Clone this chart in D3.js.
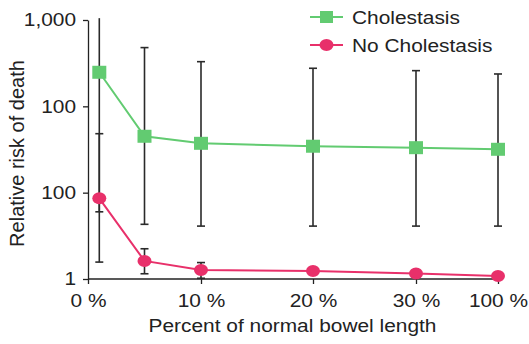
<!DOCTYPE html>
<html>
<head>
<meta charset="utf-8">
<script src="https://cdn.jsdelivr.net/npm/d3@7"></script>
<style>
  body { margin: 0; background: #fff; }
  svg text { font-family: "Liberation Sans", Arial, Helvetica, sans-serif; fill: #222; }
</style>
</head>
<body>
<div id="chart"></div>
<script>
let width = 529;
let height = 344;

// percent of normal bowel length (x positions of the points)
const percents = [1, 5, 10, 20, 30, 100];

// Cholestasis: relative risk and error bar limits
const cholestasis = [248, 45, 37.3, 34.5, 33.2, 31.8];
const cholestasisLow = [6.0, 4.3, 4.1, 4.1, 4.1, 4.1];
const cholestasisHigh = [1050, 479, 329, 276, 259, 237];

// No cholestasis: relative risk and error bar limits
const noCholestasis = [8.6, 1.62, 1.27, 1.24, 1.16, 1.08];
const noCholestasisLow = [1.57, 1.15, 1.02, 1.2, 1.12, 1.05];
const noCholestasisHigh = [48.2, 2.24, 1.55, 1.3, 1.2, 1.1];

// axis ticks as printed on the figure
const xTicks = [0, 10, 20, 30, 100];
const xTickLabels = ["0 %", "10 %", "20 %", "30 %", "100 %"];
const yTicks = [1, 10, 100, 1000];
const yTickLabels = ["1", "100", "100", "1,000"];

const green = "#62cb71";
const pink = "#e8306a";
const fontSize = "18.5px";
const stretch = 1.13; // the original figure is slightly widened

const svg = d3.select("#chart")
  .append("svg")
  .attr("width", width)
  .attr("height", height);

// piecewise x scale: the axis is not uniform between ticks
const x = d3.scaleLinear()
  .domain(xTicks)
  .range([88, 201, 313, 416, 498]);

const y = d3.scaleLog()
  .domain([1, 1000])
  .range([279, 20]);

// Y axis
const yAxis = svg.append("g")
  .attr("transform", `translate(${x(0)},0)`)
  .call(d3.axisLeft(y)
    .tickValues(yTicks)
    .tickFormat((d, i) => yTickLabels[i])
    .tickSize(5)
    .tickSizeOuter(0)
    .tickPadding(5.6));
yAxis.selectAll("text")
  .style("font-size", fontSize)
  .attr("transform", `scale(${stretch},1)`);
yAxis.selectAll("path, line").attr("stroke", "#222").attr("stroke-width", 1.3);

// X axis
const xAxis = svg.append("g")
  .attr("transform", `translate(0,${y(1)})`)
  .call(d3.axisBottom(x)
    .tickValues(xTicks)
    .tickFormat((d, i) => xTickLabels[i])
    .tickSize(5)
    .tickSizeOuter(0)
    .tickPadding(10));
xAxis.select(".domain").remove();
xAxis.append("line")
  .attr("x1", x(0))
  .attr("x2", x(100) + 5)
  .attr("stroke", "#222")
  .attr("stroke-width", 1.3);
xAxis.selectAll("text")
  .style("font-size", fontSize)
  .attr("transform", `scale(${stretch},1)`);
xAxis.selectAll(".tick line").attr("stroke", "#222").attr("stroke-width", 1.3);

// Axis titles
svg.append("text")
  .attr("transform", `translate(24,${(y(1) + y(1000)) / 2 + 4}) rotate(-90)`)
  .attr("text-anchor", "middle")
  .style("font-size", "20px")
  .text("Relative risk of death");

svg.append("g")
  .attr("transform", `translate(${(x(0) + x(100) + 5) / 2 - 3},332) scale(${stretch},1)`)
  .append("text")
  .attr("text-anchor", "middle")
  .style("font-size", fontSize)
  .text("Percent of normal bowel length");

// Error bars
function errorBars(low, high) {
  const g = svg.append("g").attr("stroke", "#2a2a2a").attr("stroke-width", 1.6);
  percents.forEach((p, i) => {
    const cx = x(p);
    g.append("line").attr("x1", cx).attr("x2", cx).attr("y1", y(low[i])).attr("y2", y(high[i]));
    g.append("line").attr("x1", cx - 4).attr("x2", cx + 4).attr("y1", y(low[i])).attr("y2", y(low[i]));
    // no cap when the bar runs off the top of the axis
    if (high[i] <= 1000) {
      g.append("line").attr("x1", cx - 4).attr("x2", cx + 4).attr("y1", y(high[i])).attr("y2", y(high[i]));
    }
  });
}
errorBars(cholestasisLow, cholestasisHigh);
errorBars(noCholestasisLow, noCholestasisHigh);

// Lines
const line = d3.line()
  .x((d, i) => x(percents[i]))
  .y(d => y(d));

svg.append("path")
  .datum(cholestasis)
  .attr("fill", "none")
  .attr("stroke", green)
  .attr("stroke-width", 2)
  .attr("d", line);

svg.append("path")
  .datum(noCholestasis)
  .attr("fill", "none")
  .attr("stroke", pink)
  .attr("stroke-width", 2)
  .attr("d", line);

// Markers
svg.selectAll("rect.mark")
  .data(cholestasis)
  .enter()
  .append("rect")
  .attr("class", "mark")
  .attr("x", (d, i) => x(percents[i]) - 7)
  .attr("y", d => y(d) - 6.5)
  .attr("width", 14)
  .attr("height", 13)
  .attr("fill", green);

svg.selectAll("ellipse.mark")
  .data(noCholestasis)
  .enter()
  .append("ellipse")
  .attr("class", "mark")
  .attr("cx", (d, i) => x(percents[i]))
  .attr("cy", d => y(d))
  .attr("rx", 7)
  .attr("ry", 6)
  .attr("fill", pink);

// Legend
const legend = [
  { name: "Cholestasis", color: green, shape: "rect" },
  { name: "No Cholestasis", color: pink, shape: "ellipse" }
];
const lg = svg.selectAll("g.legend")
  .data(legend)
  .enter()
  .append("g")
  .attr("class", "legend")
  .attr("transform", (d, i) => `translate(310,${17 + i * 28})`);
lg.append("line")
  .attr("x1", 0).attr("x2", 33)
  .attr("stroke", d => d.color)
  .attr("stroke-width", 2);
lg.filter(d => d.shape === "rect").append("rect")
  .attr("x", 10).attr("y", -6).attr("width", 13).attr("height", 12)
  .attr("fill", d => d.color);
lg.filter(d => d.shape === "ellipse").append("ellipse")
  .attr("cx", 16.5).attr("rx", 7).attr("ry", 6)
  .attr("fill", d => d.color);
lg.append("text")
  .attr("x", 42)
  .attr("y", 7)
  .attr("transform", `translate(42,0) scale(${stretch},1) translate(-42,0)`)
  .style("font-size", fontSize)
  .text(d => d.name);
</script>
</body>
</html>
